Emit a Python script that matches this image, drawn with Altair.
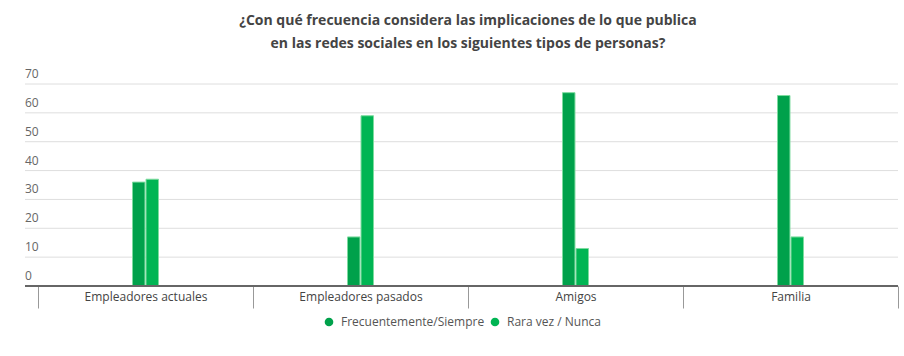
import altair as alt
import pandas as pd

categories = ["Empleadores actuales", "Empleadores pasados", "Amigos", "Familia"]
series = ["Frecuentemente/Siempre", "Rara vez / Nunca"]
freq_values = [36, 17, 67, 66]
rara_values = [37, 59, 13, 17]
y_ticks = [0, 10, 20, 30, 40, 50, 60, 70]
colors = ["#00a14b", "#00b553"]
title_lines = [
    "¿Con qué frecuencia considera las implicaciones de lo que publica",
    "en las redes sociales en los siguientes tipos de personas?",
]

rows = []
for c, a, b in zip(categories, freq_values, rara_values):
    rows.append({"cat": c, "serie": series[0], "valor": a})
    rows.append({"cat": c, "serie": series[1], "valor": b})
df = pd.DataFrame(rows)
grid_df = pd.DataFrame({"v": y_ticks})

FONT = "Open Sans"
yscale = alt.Scale(domain=[0, 70], nice=False, zero=True)

grid = alt.Chart(grid_df).transform_filter("datum.v > 0").mark_rule(
    color="#dedede", strokeWidth=1
).encode(
    y=alt.Y("v:Q", scale=yscale, axis=None),
    x=alt.value(-13), x2=alt.value(860),
)

ylabels = alt.Chart(grid_df).mark_text(
    align="left", baseline="bottom", dy=-3, font=FONT, fontSize=12, color="#666666"
).encode(
    y=alt.Y("v:Q", scale=yscale, axis=None),
    x=alt.value(-13),
    text="v:Q",
)

bars = alt.Chart(df).mark_bar(stroke="#7ddc9f", strokeWidth=1).encode(
    x=alt.X(
        "cat:N", sort=categories,
        scale=alt.Scale(paddingInner=0, paddingOuter=0),
        axis=alt.Axis(
            title=None, domain=False, tickBand="extent", tickSize=22,
            tickColor="#999999", labelPadding=-17, labelFont=FONT,
            labelFontSize=12, labelColor="#444444", labelAngle=0,
            labelBaseline="top", grid=False,
        ),
    ),
    xOffset=alt.XOffset(
        "serie:N", sort=series,
        scale=alt.Scale(range=[94.5, 120.5], paddingInner=0.077, paddingOuter=0),
    ),
    y=alt.Y("valor:Q", scale=yscale, axis=None),
    color=alt.Color(
        "serie:N", sort=series,
        scale=alt.Scale(domain=series, range=colors),
        legend=alt.Legend(
            title=None, orient="none", direction="horizontal",
            legendX=285, legendY=232, symbolType="circle", symbolSize=75,
            symbolStrokeWidth=0, labelFont=FONT, labelFontSize=12,
            labelColor="#555555", labelOffset=6, columnPadding=4,
        ),
    ),
)

baseline = alt.Chart(grid_df).transform_filter("datum.v == 0").mark_rule(
    color="#666666", strokeWidth=2
).encode(
    y=alt.Y("v:Q", scale=yscale, axis=None),
    x=alt.value(-13), x2=alt.value(860),
)

chart = alt.layer(grid, ylabels, bars, baseline).properties(
    width=860, height=202,
    title=alt.TitleParams(
        title_lines, font=FONT, fontSize=14, fontWeight="bold",
        color="#444444", anchor="middle", offset=17, lineHeight=23,
    ),
    autosize=alt.AutoSizeParams(type="none"),
    padding={"left": 38, "top": 84, "right": 6, "bottom": 70},
).configure_view(stroke=None)

chart.save("out.html", embed_options={"renderer": "svg", "actions": False})
